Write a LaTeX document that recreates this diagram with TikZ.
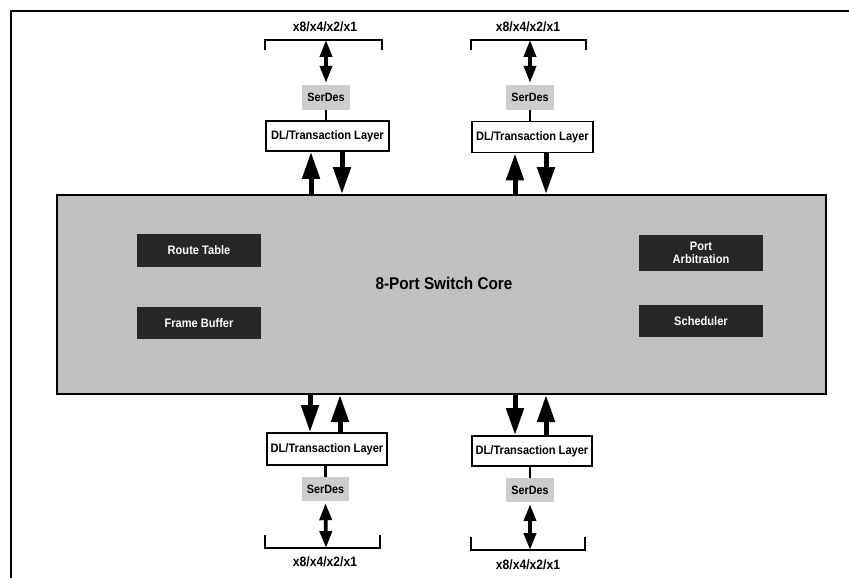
\documentclass[tikz,border=0pt]{standalone}
\usepackage{fontspec}
\setmainfont[FakeStretch=0.9]{Liberation Sans}
\usetikzlibrary{arrows.meta}
\definecolor{coregray}{RGB}{192,192,192}
\definecolor{boxdark}{RGB}{38,38,38}
\definecolor{serdesgray}{RGB}{205,205,205}
\begin{document}
\begin{tikzpicture}[x=1pt,y=-1pt,
  lbl/.style={font=\bfseries\fontsize{13.5}{15}\selectfont, inner sep=0},
  corebox/.style={draw, line width=2pt, fill=coregray, inner sep=0},
  darkbox/.style={fill=boxdark, text=white, inner sep=0, align=center, font=\bfseries\fontsize{12.3}{13}\selectfont},
  dlbox/.style={draw, line width=1.8pt, fill=white, inner sep=0, font=\bfseries\fontsize{12.3}{13}\selectfont},
  serdesbox/.style={fill=serdesgray, inner sep=0, font=\bfseries\fontsize{12}{13}\selectfont},
  bigarrow/.style={line width=5pt, -{Triangle[width=17pt,length=27pt]}},
  linkarrow/.style={line width=3.8pt, {Triangle[width=12pt,length=17pt]}-{Triangle[width=12pt,length=17pt]}},
  bracket/.style={line width=2pt},
  wire/.style={line width=2.5pt},
  framel/.style={line width=2.5pt}
]
\useasboundingbox (0,0) rectangle (849,578);
% outer frame
\draw[framel] (11,578) -- (11,11) -- (849,11);

% core
\node[corebox, minimum width=769pt, minimum height=199pt] (core) at (441.5,294.5) {};
\node[font=\bfseries\fontsize{17}{19}\selectfont, inner sep=0] (corelbl) at (444,283) {8-Port Switch Core};
\node[darkbox, minimum width=124pt, minimum height=33pt] (rt) at (199,250.5) {Route Table};
\node[darkbox, minimum width=124pt, minimum height=32pt] (fb) at (199,323) {Frame Buffer};
\node[darkbox, minimum width=124pt, minimum height=36pt] (pa) at (701,253) {Port\\Arbitration};
\node[darkbox, minimum width=124pt, minimum height=32pt] (sc) at (701,321) {Scheduler};

% ---------- top-left port
\node[lbl] (tlL) at (325,27) {x8/x4/x2/x1};
\coordinate (tlBl) at (265,50);
\coordinate (tlBr) at (382,50);
\draw[bracket] (tlBl) -- ++(0,-10) -| (tlBr);
\coordinate (tlBt) at (326,40);
\node[serdesbox, minimum width=48pt, minimum height=25pt] (tlS) at (326,97.5) {SerDes};
\node[dlbox, minimum width=123pt, minimum height=30pt] (tlD) at (327.5,136) {DL/Transaction Layer};
\draw[linkarrow, shorten >=2pt] (tlBt) -- (tlS.north);
\draw[wire] (tlS.south) -- (tlS.south |- tlD.north);
\coordinate (tlU) at (311,0);
\coordinate (tlDn) at (342,0);
\draw[bigarrow] (core.north -| tlU) -- (tlD.south -| tlU);
\draw[bigarrow] (tlD.south -| tlDn) -- (core.north -| tlDn);

% ---------- top-right port
\node[lbl] (trL) at (528,27) {x8/x4/x2/x1};
\coordinate (trBl) at (471,50);
\coordinate (trBr) at (586,50);
\draw[bracket] (trBl) -- ++(0,-10) -| (trBr);
\coordinate (trBt) at (530,40);
\node[serdesbox, minimum width=48pt, minimum height=25pt] (trS) at (530,97.5) {SerDes};
\node[dlbox, minimum width=121pt, minimum height=31pt] (trD) at (532.5,137) {DL/Transaction Layer};
\draw[linkarrow, shorten >=2pt] (trBt) -- (trS.north);
\draw[wire] (trS.south) -- (trS.south |- trD.north);
\coordinate (trU) at (515,0);
\coordinate (trDn) at (546,0);
\draw[bigarrow] (core.north -| trU) -- (trD.south -| trU);
\draw[bigarrow] (trD.south -| trDn) -- (core.north -| trDn);

% ---------- bottom-left port
\node[dlbox, minimum width=120pt, minimum height=32pt] (blD) at (327,449) {DL/Transaction Layer};
\node[serdesbox, minimum width=47pt, minimum height=24pt] (blS) at (325.5,489) {SerDes};
\coordinate (blDn) at (310,0);
\coordinate (blU) at (340,0);
\draw[bigarrow] (core.south -| blDn) -- (blD.north -| blDn);
\draw[bigarrow] (blD.north -| blU) -- (core.south -| blU);
\draw[wire] (blS.north) -- (blS.north |- blD.south);
\coordinate (blBl) at (265,535);
\coordinate (blBr) at (380,535);
\draw[bracket] (blBl) -- ++(0,13) -| (blBr);
\coordinate (blBt) at (326,548);
\draw[linkarrow, shorten <=2pt] (blS.south) -- (blBt);
\node[lbl] (blL) at (325,562) {x8/x4/x2/x1};

% ---------- bottom-right port
\node[dlbox, minimum width=120pt, minimum height=30pt] (brD) at (532,451) {DL/Transaction Layer};
\node[serdesbox, minimum width=48pt, minimum height=24pt] (brS) at (530,490) {SerDes};
\coordinate (brDn) at (515,0);
\coordinate (brU) at (546,0);
\draw[bigarrow] (core.south -| brDn) -- (brD.north -| brDn);
\draw[bigarrow] (brD.north -| brU) -- (core.south -| brU);
\draw[wire] (brS.north) -- (brS.north |- brD.south);
\coordinate (brBl) at (471,537);
\coordinate (brBr) at (585,537);
\draw[bracket] (brBl) -- ++(0,13) -| (brBr);
\coordinate (brBt) at (530,550);
\draw[linkarrow, shorten <=2pt] (brS.south) -- (brBt);
\node[lbl] (brL) at (528,565) {x8/x4/x2/x1};
\end{tikzpicture}
\end{document}
